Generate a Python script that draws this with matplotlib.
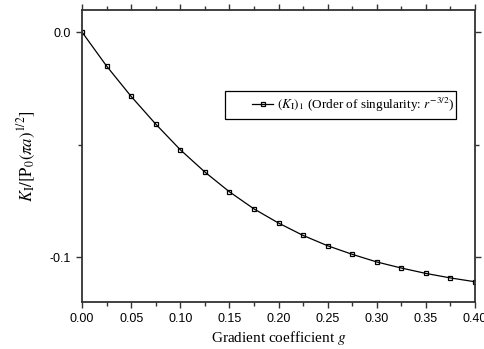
import matplotlib
matplotlib.use("Agg")
import matplotlib.pyplot as plt
from matplotlib.ticker import MultipleLocator, FixedLocator
from matplotlib.patches import Rectangle

plt.rcParams['mathtext.fontset'] = 'stix'
plt.rcParams['axes.unicode_minus'] = False

g = [0.0, 0.025, 0.05, 0.075, 0.1, 0.125, 0.15, 0.175, 0.2, 0.225,
     0.25, 0.275, 0.3, 0.325, 0.35, 0.375, 0.4]
K1 = [0.0, -0.0151, -0.0286, -0.0409, -0.0523, -0.0622, -0.0710, -0.0786,
      -0.0849, -0.0904, -0.0950, -0.0988, -0.1022, -0.1049, -0.1073,
      -0.1093, -0.1110]
xticks = [0.0, 0.05, 0.10, 0.15, 0.20, 0.25, 0.30, 0.35, 0.40]
xticklabels = ["0.00", "0.05", "0.10", "0.15", "0.20", "0.25", "0.30", "0.35", "0.40"]
yticks = [0.0, -0.1]
yticklabels = ["0.0", "-0.1"]

fig = plt.figure(figsize=(4.84, 3.49), dpi=100)
ax = fig.add_axes([82/484, 1-302/349, (475-82)/484, (302-10)/349])

ax.plot(g, K1, color='black', lw=0.9, marker='s', ms=3.3, mfc='none',
        mec='black', mew=0.9,
        label=r'$(K_{\mathrm{I}})_1$ (Order of singularity: $r^{-3/2}$)')

ax.set_xlim(0.0, 0.40)
ax.set_ylim(-0.12, 0.0098)
ax.set_xticks(xticks)
ax.set_xticklabels(xticklabels)
ax.set_yticks(yticks)
ax.set_yticklabels(yticklabels)
ax.xaxis.set_minor_locator(MultipleLocator(0.025))
ax.yaxis.set_minor_locator(FixedLocator([-0.05]))

for s in ax.spines.values():
    s.set_linewidth(1.3)
    s.set_color('#333333')

ax.tick_params(which='both', direction='out', top=True, right=True,
               labeltop=False, labelright=False, width=1.0, color='#333333')
ax.tick_params(which='major', length=4.5)
ax.tick_params(which='minor', length=3)
for lab in ax.get_xticklabels() + ax.get_yticklabels():
    lab.set_fontfamily('Liberation Sans')
    lab.set_fontsize(9)

ax.set_xlabel(r'Gradient coefficient $g$', fontfamily='Liberation Serif',
              fontsize=11, labelpad=3)
ax.set_ylabel(r'$K_{\mathrm{I}}/[\mathrm{P}_0(\pi a)^{1/2}]$',
              fontfamily='Liberation Serif', fontsize=12, labelpad=8)

leg = ax.legend(loc='center right', bbox_to_anchor=(0.947, 0.675),
                prop={'family': 'Liberation Serif', 'size': 9.5},
                frameon=False, handlelength=1.6, handletextpad=0.25,
                borderpad=0, borderaxespad=0)
ax.add_patch(Rectangle((0.3639, 0.6267), 0.9517 - 0.3639, 0.7226 - 0.6267,
                       transform=ax.transAxes, fill=False, edgecolor='black',
                       lw=0.9, zorder=5))

fig.savefig('out.png', dpi=100)
